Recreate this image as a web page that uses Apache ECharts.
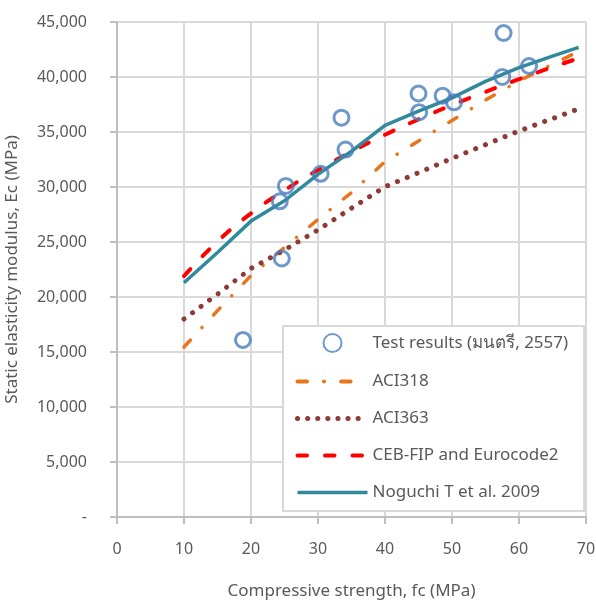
<!DOCTYPE html>
<html>
<head>
<meta charset="utf-8">
<script src="https://cdn.jsdelivr.net/npm/echarts@6/dist/echarts.min.js"></script>
<style>
html,body{margin:0;padding:0;background:#fff;}
#chart{width:596px;height:604px;}
</style>
</head>
<body>
<div id="chart"></div>
<script>
// Test results (fc MPa, Ec MPa)
var testFc = [18.8, 24.6, 24.3, 25.2, 30.4, 33.5, 34.1, 45.0, 45.1, 48.6, 50.3, 57.7, 57.5, 61.5];
var testEc = [16100, 23500, 28700, 30100, 31200, 36300, 33400, 38500, 36800, 38300, 37700, 44000, 40000, 41000];

// ACI318
var aci318Fc = [10, 15, 20, 25, 30, 35, 40, 45, 50, 55, 60, 65, 68.5];
var aci318Ec = [15450, 18760, 21950, 24500, 27050, 29500, 32300, 34180, 36050, 37900, 39650, 41150, 42200];

// ACI363
var aci363Fc = [10, 15, 20, 25, 30, 35, 40, 45, 50, 55, 60, 65, 68.7];
var aci363Ec = [18000, 20250, 22600, 24270, 26100, 28080, 30020, 31300, 32600, 33850, 35100, 36220, 37060];

// CEB-FIP and Eurocode2
var cebFc = [10, 15, 20, 25, 30, 35, 40, 45, 50, 55, 60, 65, 68.9];
var cebEc = [21900, 25050, 27600, 29700, 31550, 33200, 34750, 36150, 37450, 38650, 39800, 40900, 41700];

// Noguchi T et al. 2009
var noguchiFc = [10, 15, 20, 25, 30, 35, 40, 45, 50, 55, 60, 65, 68.9];
var noguchiEc = [21300, 24050, 26900, 28750, 31150, 33250, 35600, 36900, 38100, 39600, 40850, 41900, 42700];

var seriesNames = ['Test results (มนตรี, 2557)', 'ACI318', 'ACI363', 'CEB-FIP and Eurocode2', 'Noguchi T et al. 2009'];
var xTitle = 'Compressive strength, fc (MPa)';
var yTitle = 'Static elasticity modulus, Ec (MPa)';

function pairs(xs, ys){ return xs.map(function(x,i){ return [x, ys[i]]; }); }

var font = '"Noto Sans", "DejaVu Sans", sans-serif';
var textColor = '#595959';
var hidden = {color: 'rgba(0,0,0,0)', borderWidth: 0, opacity: 0};

var chart = echarts.init(document.getElementById('chart'), null, {renderer:'canvas'});
chart.setOption({
  animation: false,
  backgroundColor: '#ffffff',
  textStyle: {fontFamily: font},
  grid: {left: 117, right: 10, top: 22, bottom: 87, containLabel: false, outerBoundsMode: 'none'},
  xAxis: {
    type: 'value', min: 0, max: 70, interval: 10,
    name: xTitle, nameLocation: 'middle', nameGap: 66,
    nameTextStyle: {color: textColor, fontSize: 17, fontFamily: font},
    axisLine: {show: true, lineStyle: {color: '#bfbfbf', width: 2}},
    axisTick: {show: true, length: 7, lineStyle: {color: '#bfbfbf', width: 2}},
    axisLabel: {color: textColor, fontSize: 16, margin: 24, fontFamily: font},
    splitLine: {show: true, lineStyle: {color: '#d9d9d9', width: 2}}
  },
  yAxis: {
    type: 'value', min: 0, max: 45000, interval: 5000,
    name: yTitle, nameLocation: 'middle', nameGap: 96,
    nameTextStyle: {color: textColor, fontSize: 17, fontFamily: font},
    axisLine: {show: true, lineStyle: {color: '#bfbfbf', width: 2}},
    axisTick: {show: true, length: 7, lineStyle: {color: '#bfbfbf', width: 2}},
    axisLabel: {color: textColor, fontSize: 16, margin: 30, fontFamily: font,
      formatter: function(v){ return v === 0 ? '-' : v.toLocaleString('en-US'); }},
    splitLine: {show: true, lineStyle: {color: '#d9d9d9', width: 2}}
  },
  legend: {
    orient: 'vertical', left: 283, top: 326,
    padding: [7, 16, 10, 12],
    itemWidth: 70, itemHeight: 18, itemGap: 20,
    backgroundColor: '#ffffff', borderColor: '#d9d9d9', borderWidth: 2, borderRadius: 0,
    textStyle: {color: textColor, fontSize: 17, fontFamily: font},
    data: [
      {name: seriesNames[0]},
      {name: seriesNames[1], itemStyle: hidden, lineStyle: {width: 4}},
      {name: seriesNames[2], itemStyle: hidden, lineStyle: {width: 5, type: [0.1, 10], cap: 'round'}},
      {name: seriesNames[3], itemStyle: hidden, lineStyle: {width: 4}},
      {name: seriesNames[4], itemStyle: hidden, lineStyle: {width: 3.5}}
    ]
  },
  series: [
    {
      name: seriesNames[0], type: 'scatter', data: pairs(testFc, testEc),
      symbol: 'circle', symbolSize: 15,
      itemStyle: {color: 'rgba(0,0,0,0)', borderColor: '#4a7ebb', borderWidth: 3},
      z: 5
    },
    {
      name: seriesNames[1], type: 'line', data: pairs(aci318Fc, aci318Ec),
      symbol: 'none', smooth: false,
      lineStyle: {color: '#e8761e', width: 3.5, type: [9.5, 17, 0.1, 17], cap: 'round'},
      itemStyle: {color: '#e8761e'}, z: 3
    },
    {
      name: seriesNames[2], type: 'line', data: pairs(aci363Fc, aci363Ec),
      symbol: 'none', smooth: false,
      lineStyle: {color: '#8e3b38', width: 5, type: [0.1, 10.5], cap: 'round'},
      itemStyle: {color: '#8e3b38'}, z: 3
    },
    {
      name: seriesNames[3], type: 'line', data: pairs(cebFc, cebEc),
      symbol: 'none', smooth: true,
      lineStyle: {color: '#ff0000', width: 4, type: [9.5, 18], cap: 'round'},
      itemStyle: {color: '#ff0000'}, z: 3
    },
    {
      name: seriesNames[4], type: 'line', data: pairs(noguchiFc, noguchiEc),
      symbol: 'none', smooth: false,
      lineStyle: {color: '#31899c', width: 3.5, type: 'solid'},
      itemStyle: {color: '#31899c'}, z: 4
    }
  ]
});
</script>
</body>
</html>
